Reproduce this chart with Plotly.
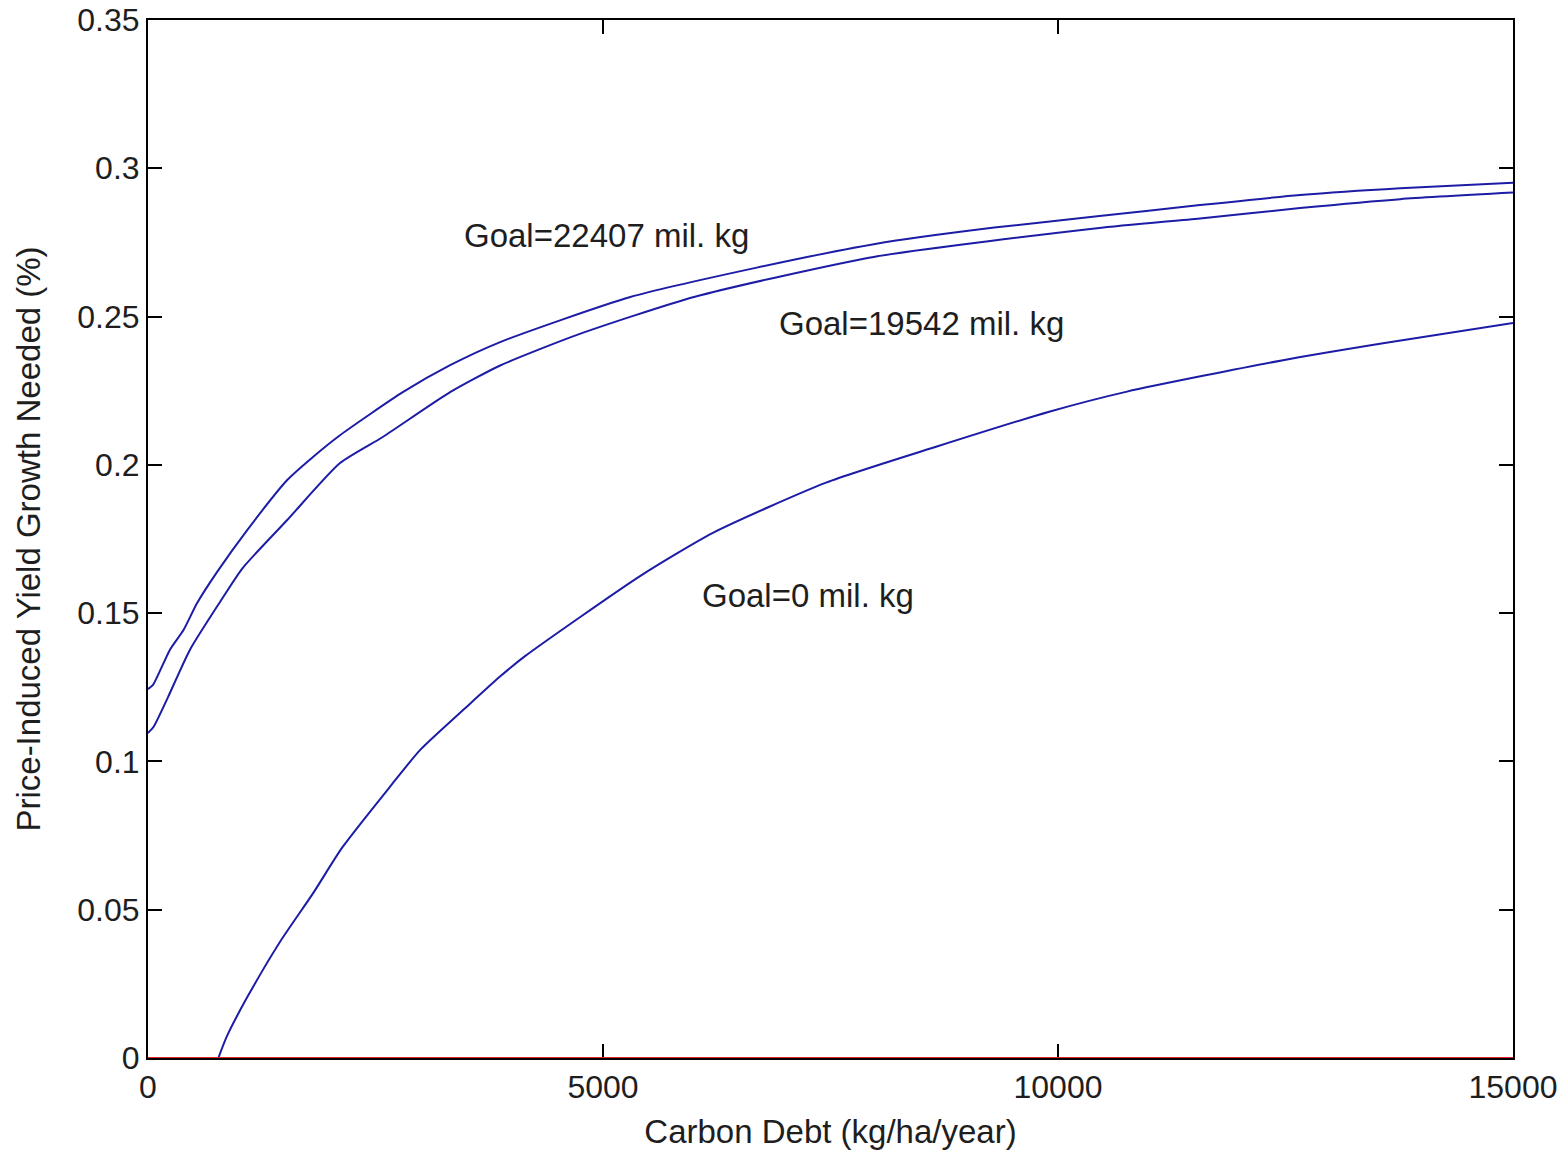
import plotly.graph_objects as go

# Carbon debt (kg/ha/year) and price-induced yield growth needed (%)
goal_22407_x = [0, 55, 240, 390, 540, 760, 1090, 1530, 1810, 2110, 2800, 3320, 3870,
                5300, 6690, 7990, 9300, 10430, 11560, 12660, 13760, 15000]
goal_22407_y = [0.1244, 0.1258, 0.1376, 0.1443, 0.1534, 0.1639, 0.178, 0.1949, 0.2026,
                0.210, 0.2245, 0.2336, 0.2414, 0.2566, 0.2665, 0.2745, 0.2800, 0.2838,
                0.2876, 0.291, 0.2933, 0.2951]

goal_19542_x = [0, 60, 220, 460, 790, 1040, 1530, 2110, 2580, 3320, 3870, 4730, 6010,
                7990, 10430, 11560, 12660, 13760, 15000]
goal_19542_y = [0.1096, 0.1116, 0.1217, 0.1376, 0.1537, 0.1652, 0.1814, 0.2006, 0.2094,
                0.2245, 0.2335, 0.2440, 0.2567, 0.2702, 0.2798, 0.2831, 0.2866, 0.2896,
                0.2918]

goal_0_x = [773, 865, 1085, 1451, 1815, 2135, 2660, 2989, 3502, 3868, 4143, 5407, 6203,
            7451, 8660, 9913, 10758, 12473, 13572, 15000]
goal_0_y = [0, 0.0072, 0.0202, 0.0392, 0.0556, 0.071, 0.0915, 0.1038, 0.1184, 0.1286,
            0.1355, 0.1625, 0.177, 0.194, 0.2061, 0.218, 0.2247, 0.2353, 0.241, 0.2478]

zero_x = [0, 15000]
zero_y = [0, 0]

labels = ["Goal=22407 mil. kg", "Goal=19542 mil. kg", "Goal=0 mil. kg"]
label_x = [5033, 8495, 7253]
label_y = [0.2775, 0.2475, 0.1558]

x_ticks = [0, 5000, 10000, 15000]
y_ticks = [0, 0.05, 0.1, 0.15, 0.2, 0.25, 0.3, 0.35]
y_tick_text = ["0", "0.05", "0.1", "0.15", "0.2", "0.25", "0.3", "0.35"]

line_color = "#1c1ca6"
font_family = "Liberation Sans, Arial, sans-serif"
text_color = "#1e1e1e"

fig = go.Figure()
for xs, ys in [(goal_22407_x, goal_22407_y), (goal_19542_x, goal_19542_y), (goal_0_x, goal_0_y)]:
    fig.add_trace(go.Scatter(x=xs, y=ys, mode="lines",
                             line=dict(color=line_color, width=2, shape="spline", smoothing=0.6),
                             showlegend=False))

# zero-growth reference line, drawn above the axis frame as in the reference
fig.add_shape(type="line", xref="x", yref="y", layer="above",
              x0=zero_x[0], x1=zero_x[-1], y0=zero_y[0], y1=zero_y[-1],
              line=dict(color="#e0202a", width=2))

for t, x, y in zip(labels, label_x, label_y):
    fig.add_annotation(x=x, y=y, text=t, showarrow=False,
                       font=dict(family=font_family, size=33, color=text_color))

axis_common = dict(
    showline=True, linecolor="black", linewidth=2, mirror="ticks",
    ticks="inside", ticklen=14, tickwidth=2, tickcolor="black",
    showgrid=False, zeroline=False, ticklabeloverflow="allow",
    tickfont=dict(family=font_family, size=32, color=text_color),
)

fig.update_xaxes(range=[0, 15000], tickvals=x_ticks, ticktext=[str(v) for v in x_ticks],
                 title=dict(text="Carbon Debt (kg/ha/year)", standoff=15,
                            font=dict(family=font_family, size=33, color=text_color)),
                 **axis_common)
fig.update_yaxes(range=[0, 0.35], tickvals=y_ticks, ticktext=y_tick_text,
                 title=dict(text="Price-Induced Yield Growth Needed (%)", standoff=27,
                            font=dict(family=font_family, size=33, color=text_color)),
                 **axis_common)

fig.update_layout(
    width=1568, height=1154,
    margin=dict(l=148, r=55, t=20, b=96, autoexpand=False),
    plot_bgcolor="white", paper_bgcolor="white",
)

fig.write_html("out.html", config={"displayModeBar": False},
               post_script="document.body.style.margin='0px';document.body.style.overflow='hidden';")
